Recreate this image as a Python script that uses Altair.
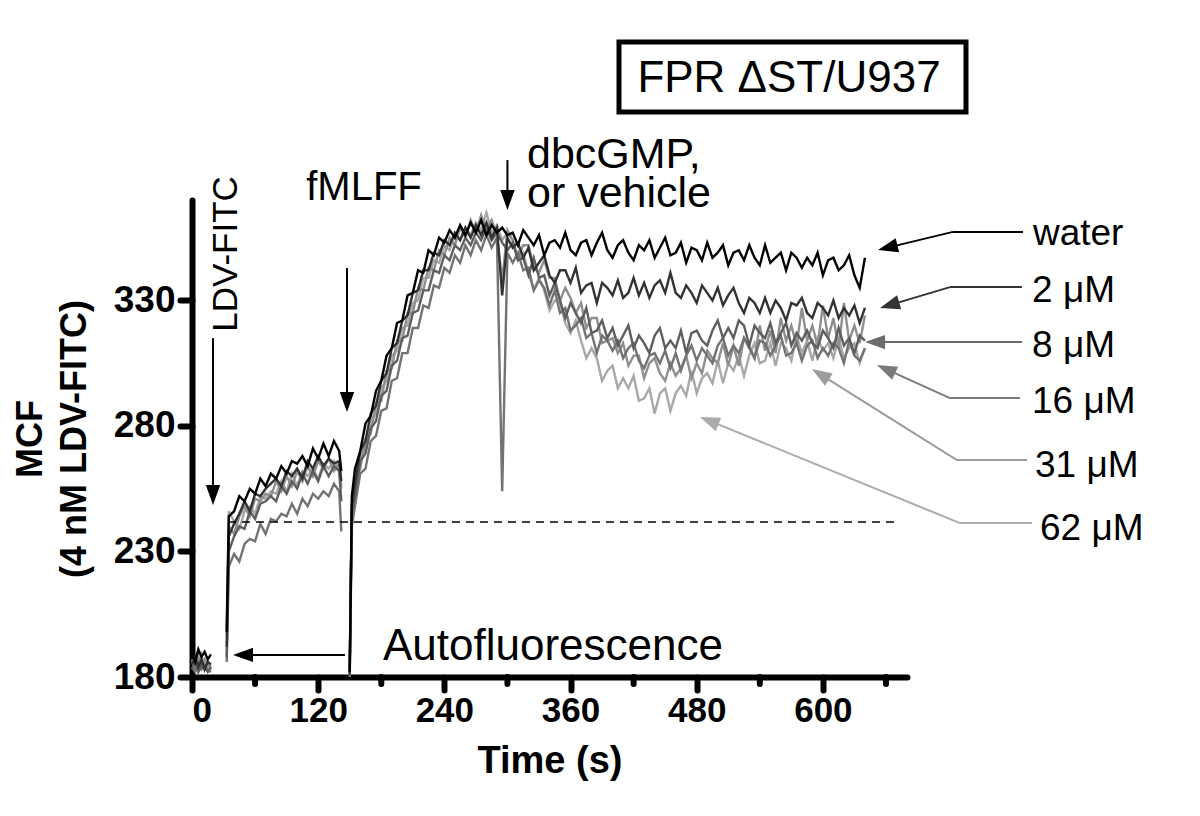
import math
import altair as alt
import pandas as pd

FONT = "Liberation Sans"

SERIES = ["water", "2 μM", "8 μM", "16 μM", "31 μM", "62 μM"]
COLORS = ["#000000", "#333333", "#5e5e5e", "#737373", "#8f8f8f", "#a8a8a8"]
ARROW_COLORS = ["#000000", "#333333", "#6b6b6b", "#7a7a7a", "#9c9c9c", "#ababab"]

# time grids (s)
time_a = [0, 3, 6, 9, 12, 15, 18]
time_b = [33, 35, 40, 45, 50, 55, 60, 65, 70, 75, 80, 85, 90, 95, 100, 105,
          110, 115, 120, 125, 130, 135, 140, 142]
time_c = [150, 152] + list(range(155, 645, 5))

# ---- autofluorescence segment
water_a = [189, 186, 191, 188, 190, 187, 189]
m2_a = [185, 188, 184, 187, 183, 186, 185]
m8_a = [183, 186, 182, 185, 184, 182, 184]
m16_a = [184, 182, 186, 183, 185, 183, 182]
m31_a = [186, 183, 188, 184, 187, 185, 183]
m62_a = [187, 184, 185, 189, 183, 186, 184]

# ---- LDV-FITC segment
water_b = [198, 244, 246, 252, 250, 255, 253, 259, 256, 261, 259, 264, 261, 266, 265, 268, 264, 271, 267, 273, 268, 274, 270, 262]
m2_b = [192, 236, 241, 245, 250, 246, 253, 252, 255, 257, 259, 256, 262, 260, 263, 259, 266, 263, 268, 264, 267, 265, 266, 258]
m8_b = [188, 230, 236, 240, 239, 246, 243, 249, 250, 252, 250, 256, 253, 258, 255, 261, 257, 262, 258, 264, 260, 264, 262, 250]
m16_b = [186, 224, 229, 226, 233, 235, 234, 241, 237, 243, 242, 245, 244, 249, 245, 251, 248, 253, 251, 254, 252, 257, 254, 238]
m31_b = [196, 240, 237, 244, 248, 244, 251, 250, 253, 252, 258, 254, 260, 256, 262, 258, 264, 260, 266, 263, 267, 262, 265, 256]
m62_b = [200, 246, 242, 239, 246, 248, 245, 252, 251, 254, 253, 258, 254, 261, 256, 262, 260, 263, 259, 265, 263, 266, 262, 255]

# ---- fMLFF + dbcGMP segment
water_c = [182, 252, 263, 270, 281, 284, 294, 298, 308, 311, 321, 322, 332, 333, 342, 341,
           350, 348, 355, 353, 358, 355, 360, 356, 361, 357, 362, 356, 360, 357, 359, 356,
           357, 352, 358, 355, 352, 356, 348, 353, 354, 351, 357, 350, 348, 353, 354, 348, 353, 357, 350, 347,
           352, 354, 349, 346, 352, 350, 354, 347, 351, 355, 348, 349, 353, 345, 351, 350, 346, 353, 347, 349,
           352, 344, 349, 350, 346, 352, 347, 344, 352, 345, 347, 349, 342, 349, 347, 343, 347, 344, 349, 340,
           346, 347, 342, 344, 348, 340, 335, 347]
m2_c = [181, 248, 257, 270, 274, 285, 288, 298, 301, 311, 313, 322, 324, 333, 334, 342,
        342, 349, 348, 354, 352, 357, 354, 359, 355, 360, 356, 361, 355, 359, 332, 355,
        351, 353, 347, 351, 342, 345, 348, 340, 337, 342, 342, 337, 343, 333, 336, 337, 329, 337, 335, 332,
        338, 331, 333, 339, 332, 337, 331, 336, 338, 333, 341, 333, 331, 336, 333, 329, 336, 333, 330, 335,
        328, 332, 335, 329, 325, 331, 329, 325, 331, 325, 330, 327, 322, 329, 328, 331, 325, 323, 329, 327,
        324, 330, 323, 327, 324, 328, 321, 327]
m8_c = [183, 245, 252, 266, 269, 279, 282, 292, 294, 304, 306, 315, 316, 325, 326, 334,
        334, 342, 341, 348, 346, 352, 350, 355, 352, 357, 354, 359, 354, 357, 353, 350,
        353, 346, 347, 340, 347, 339, 340, 332, 337, 330, 323, 329, 325, 321, 327, 317, 318, 322, 315, 319,
        312, 316, 320, 311, 316, 313, 309, 316, 319, 311, 314, 311, 318, 309, 317, 318, 314, 312, 318, 322,
        315, 319, 315, 322, 320, 312, 320, 317, 315, 321, 313, 317, 321, 312, 317, 314, 318, 313, 311, 318,
        315, 311, 319, 312, 315, 309, 316, 314]
m16_c = [180, 240, 248, 261, 263, 274, 276, 286, 287, 298, 299, 309, 309, 319, 319, 328,
         327, 336, 335, 343, 341, 348, 345, 352, 348, 354, 350, 356, 351, 355, 254, 349,
         345, 349, 342, 343, 334, 338, 335, 328, 334, 325, 327, 318, 320, 323, 315, 317, 309, 316, 314, 310,
         314, 307, 311, 313, 306, 303, 308, 309, 305, 310, 303, 309, 302, 308, 312, 306, 311, 308, 305, 312,
         315, 308, 312, 309, 315, 311, 307, 314, 313, 308, 312, 316, 308, 309, 313, 306, 312, 314, 307, 311,
         308, 313, 311, 305, 314, 308, 306, 311]
m31_c = [184, 247, 258, 263, 275, 277, 289, 290, 302, 303, 314, 314, 325, 325, 335, 334,
         343, 342, 350, 348, 355, 352, 359, 355, 362, 357, 364, 358, 362, 356, 338, 358,
         354, 347, 352, 352, 343, 341, 346, 339, 339, 330, 335, 331, 325, 329, 319, 323, 323, 313, 314, 315,
         309, 313, 304, 308, 308, 299, 305, 307, 301, 298, 305, 300, 303, 308, 299, 305, 301, 310, 307, 305,
         313, 304, 312, 304, 315, 312, 307, 320, 310, 318, 309, 323, 314, 320, 312, 327, 314, 320, 312, 328,
         315, 323, 311, 329, 314, 320, 313, 324]
m62_c = [182, 250, 255, 268, 271, 282, 285, 295, 298, 308, 310, 319, 320, 329, 330, 339,
         339, 346, 345, 352, 350, 356, 354, 359, 356, 361, 358, 365, 357, 360, 354, 357,
         354, 346, 349, 341, 334, 339, 334, 326, 330, 329, 321, 317, 322, 314, 307, 311, 307, 298, 302, 304,
         295, 299, 295, 300, 290, 291, 295, 285, 293, 295, 286, 293, 296, 292, 302, 293, 299, 301, 297, 306,
         297, 305, 302, 308, 300, 308, 313, 305, 306, 313, 304, 313, 311, 306, 316, 309, 314, 306, 315, 310,
         313, 307, 315, 307, 311, 313, 305, 311]

series_values = {
    "water": (water_a, water_b, water_c),
    "2 μM": (m2_a, m2_b, m2_c),
    "8 μM": (m8_a, m8_b, m8_c),
    "16 μM": (m16_a, m16_b, m16_c),
    "31 μM": (m31_a, m31_b, m31_c),
    "62 μM": (m62_a, m62_b, m62_c),
}

# axis ticks
x_ticks = [0, 120, 240, 360, 480, 600]
x_minor = [60, 180, 300, 420, 540, 660]
y_ticks = [180, 230, 280, 330]

W, H = 715, 477
X_DOM = [0, 680]
Y_DOM = [180, 370]
KX = W / (X_DOM[1] - X_DOM[0])
KY = H / (Y_DOM[1] - Y_DOM[0])

rows = []
for name in SERIES:
    for seg, ts, vs in zip("abc", (time_a, time_b, time_c), series_values[name]):
        assert len(ts) == len(vs), (name, seg, len(ts), len(vs))
        for t, v in zip(ts, vs):
            rows.append({"t": t, "v": v, "series": name, "seg": name + seg})
df = pd.DataFrame(rows)

xs = alt.Scale(domain=X_DOM, nice=False, zero=False)
ys = alt.Scale(domain=Y_DOM, nice=False, zero=False)

common_axis = dict(grid=False, domainWidth=6, domainColor="black", domainCap="round",
                   tickWidth=6, tickColor="black", tickCap="round",
                   labelFont=FONT, labelFontWeight="bold", labelColor="black",
                   titleFont=FONT, titleFontWeight="bold", titleColor="black")
x_axis = alt.Axis(title="Time (s)", values=x_ticks, tickSize=13, labelFontSize=35, labelPadding=3,
                  titleFontSize=38, titlePadding=14, **common_axis)
y_axis = alt.Axis(title=["MCF", "(4 nM LDV-FITC)"], values=y_ticks, tickSize=12, labelFontSize=37,
                  labelPadding=5, titleFontSize=36, titleLineHeight=44, titlePadding=20, **common_axis)


def X(field="t:Q"):
    return alt.X(field, scale=xs, axis=x_axis)


def Y(field="v:Q"):
    return alt.Y(field, scale=ys, axis=y_axis)


layers = []
# traces: lightest first, water on top
for i, name in reversed(list(enumerate(SERIES))):
    sub = df[df.series == name]
    layers.append(alt.Chart(sub).mark_line(color=COLORS[i], strokeWidth=2.4).encode(
        x=X(), y=Y(), detail="seg:N"))

# minor ticks on x axis
layers.append(alt.Chart(pd.DataFrame({"t": x_minor})).mark_rule(
    color="black", strokeWidth=6, strokeCap="round").encode(
    x=X(), y=alt.value(H), y2=alt.value(H + 7)))

# dashed reference line
layers.append(alt.Chart(pd.DataFrame({"t": [34.2], "t2": [673.3], "v": [241.7]})).mark_rule(
    color="black", strokeWidth=1.5, strokeDash=[8, 6]).encode(
    x=X(), x2="t2:Q", y=Y()))

# arrows (tail ... tip), in data units
arrows = [
    ([(20, 315.0), (20, 248.5)], "#000000"),
    ([(147.4, 342.9), (147.4, 285.6)], "#000000"),
    ([(300, 385.9), (300, 366.0)], "#000000"),
    ([(145.5, 188.8), (39.0, 188.8)], "#000000"),
    ([(790.3, 357.3), (723.7, 357.3), (652.4, 350.1)], ARROW_COLORS[0]),
    ([(789.3, 335.3), (720.9, 335.3), (654.3, 327.0)], ARROW_COLORS[1]),
    ([(789.3, 313.4), (640.1, 313.4)], ARROW_COLORS[2]),
    ([(787.4, 291.1), (720.9, 291.1), (651.4, 304.3)], ARROW_COLORS[3]),
    ([(794.1, 266.4), (727.5, 266.4), (589.6, 302.7)], ARROW_COLORS[4]),
    ([(798.9, 241.3), (730.4, 241.3), (483.1, 283.6)], ARROW_COLORS[5]),
]
HEAD = "M0,-1L0.72,1L-0.72,1Z"
HEAD_LEN = 20
seg_rows, head_rows = [], []
for pts, col in arrows:
    (pt, pv), (tt, tv) = pts[-2], pts[-1]
    dx = (tt - pt) * KX
    dy = -(tv - pv) * KY
    L = math.hypot(dx, dy)
    ux, uy = dx / L, dy / L
    ang = math.degrees(math.atan2(ux, -uy)) % 360
    ct = tt - (HEAD_LEN / 2) * ux / KX
    cv = tv + (HEAD_LEN / 2) * uy / KY
    head_rows.append({"t": ct, "v": cv, "ang": ang, "col": col})
    path = pts[:-1] + [(ct, cv)]
    for (a, b), (c, d) in zip(path[:-1], path[1:]):
        seg_rows.append({"t": a, "v": b, "t2": c, "v2": d, "col": col})

layers.append(alt.Chart(pd.DataFrame(seg_rows)).mark_rule(strokeWidth=2).encode(
    x=X(), y=Y(), x2="t2:Q", y2="v2:Q", color=alt.Color("col:N", scale=None)))
layers.append(alt.Chart(pd.DataFrame(head_rows)).mark_point(
    shape=HEAD, filled=True, size=HEAD_LEN ** 2, opacity=1, strokeWidth=0).encode(
    x=X(), y=Y(), angle=alt.Angle("ang:Q", scale=None), color=alt.Color("col:N", scale=None)))

# title box
layers.append(alt.Chart(pd.DataFrame({"t": [406.1], "t2": [736.1], "v": [432.9], "v2": [405.1]})).mark_rect(
    filled=False, color="black", strokeWidth=5).encode(
    x=X(), x2="t2:Q", y=Y(), y2="v2:Q"))


def text_layer(labels, ts, vs, size, align, baseline="alphabetic", angle=0):
    d = pd.DataFrame({"label": labels, "t": ts, "v": vs})
    return alt.Chart(d).mark_text(font=FONT, fontSize=size, align=align, baseline=baseline,
                                  angle=angle, color="black").encode(
        x=X(), y=Y(), text="label:N")


layers.append(text_layer(["FPR ΔST/U937"], [567.8], [413.0], 44, "center"))
layers.append(text_layer(["LDV-FITC"], [32.0], [348.5], 35, "center", "middle", 270))
layers.append(text_layer(["fMLFF"], [163.6], [370.0], 40, "center"))
layers.append(text_layer(["dbcGMP,", "or vehicle"], [318.6, 318.6], [382.8, 367.4], 43, "left"))
layers.append(text_layer(["Autofluorescence"], [181.6], [186.8], 44, "left"))
layers.append(text_layer(SERIES, [799.8, 798.9, 798.9, 798.9, 801.7, 806.5],
                         [352.1, 329.4, 307.5, 285.2, 259.7, 234.6], 37, "left"))

chart = alt.layer(*layers).properties(
    width=W, height=H,
    padding={"left": 184, "top": 192, "right": 270, "bottom": 110},
    autosize=alt.AutoSizeParams(type="none"),
    background="white",
).configure(font=FONT).configure_view(strokeWidth=0)

chart.save("out.html", embed_options={"renderer": "svg", "actions": False})
